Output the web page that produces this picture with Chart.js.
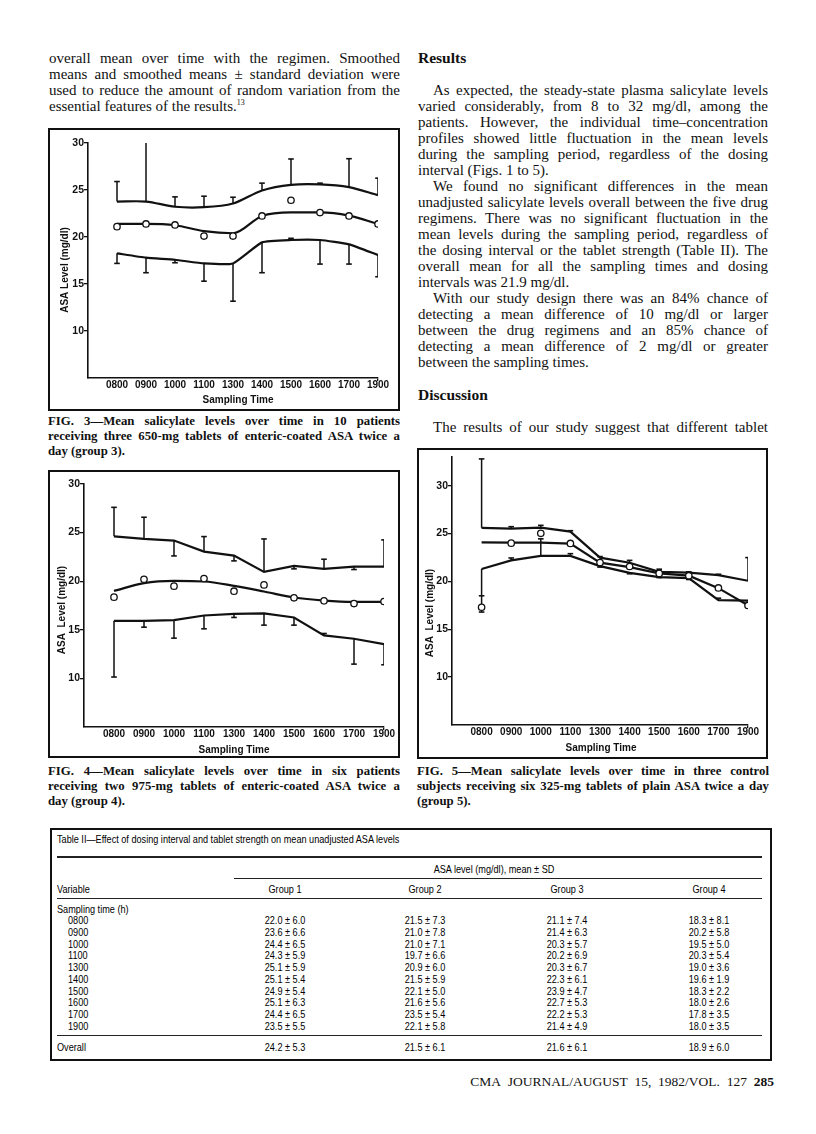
<!DOCTYPE html>
<html><head><meta charset="utf-8">
<script src="https://cdn.jsdelivr.net/npm/chart.js@4.4.1/dist/chart.umd.min.js"></script>
<style>
html,body{margin:0;padding:0;background:#fff;}
body{width:816px;height:1134px;position:relative;overflow:hidden;font-family:"Liberation Serif","Times New Roman",serif;color:#111;}
.t{position:absolute;white-space:nowrap;}
.j{text-align:justify;text-align-last:justify;white-space:normal;height:16px;}
.body{font-size:15px;line-height:16px;}
.cap{font-size:12.8px;line-height:15px;font-weight:bold;}
.head{font-size:15.5px;line-height:16px;font-weight:bold;}
.box{position:absolute;border:2px solid #111;box-sizing:border-box;pointer-events:none;z-index:2;}
canvas{position:absolute;}
.tb{position:absolute;white-space:nowrap;font-family:"Liberation Sans",Arial,sans-serif;font-size:11px;line-height:12px;color:#000;transform:scaleX(0.83);}
.rule{position:absolute;background:#222;}
</style></head>
<body>
<div id="page"></div>
<canvas id="fig3" width="352" height="283" style="left:48px;top:128px;width:352px;height:283px"></canvas>
<div class="box" style="left:48px;top:128px;width:352px;height:283px"></div>
<canvas id="fig4" width="352" height="288" style="left:48px;top:470px;width:352px;height:288px"></canvas>
<div class="box" style="left:48px;top:470px;width:352px;height:288px"></div>
<canvas id="fig5" width="351" height="311" style="left:417px;top:448px;width:351px;height:311px"></canvas>
<div class="box" style="left:417px;top:448px;width:351px;height:311px"></div>
<div class="box" style="left:50px;top:828px;width:722px;height:233px"></div>
<script>
// ---------- chart data ----------
const categories = ['0800','0900','1000','1100','1300','1400','1500','1600','1700','1900'];

// Fig. 3 (group 3)
const fig3Upper   = [23.77,23.77,23.22,23.17,23.56,24.95,25.55,25.6,25.3,24.45];
const fig3UpperSD = [25.9,30.28,24.27,24.34,24.23,25.73,28.3,25.73,28.33,26.26];
const fig3Mean    = [21.39,21.39,21.25,20.62,20.4,22.24,22.62,22.62,22.28,21.39];
const fig3Points  = [21.1,21.39,21.28,20.1,20.1,22.24,23.91,22.6,22.24,21.39];
const fig3Lower   = [18.26,17.8,17.58,17.19,17.19,19.43,19.68,19.68,19.22,18.08];
const fig3LowerSD = [17.19,16.2,17.26,15.3,13.17,16.2,19.86,17.12,17.12,15.77];

// Fig. 4 (group 4)
const fig4Upper   = [24.62,24.35,24.18,23.05,22.64,20.96,21.58,21.27,21.5,21.5];
const fig4UpperSD = [27.6,26.58,22.6,24.59,22.09,24.35,21.27,22.26,21.2,24.25];
const fig4Mean    = [19.0,19.8,20.03,19.97,19.52,18.94,18.32,18.01,17.88,17.88];
const fig4Points  = [18.36,20.2,19.49,20.27,18.97,19.62,18.29,17.98,17.7,17.91];
const fig4Lower   = [15.92,15.92,15.99,16.47,16.64,16.68,16.27,14.42,14.08,13.53];
const fig4LowerSD = [10.14,15.27,14.14,15.1,16.27,15.48,15.48,14.62,11.47,11.4];

// Fig. 5 (group 5)
const fig5Upper   = [25.6,25.52,25.62,25.2,22.48,21.95,21.0,20.92,20.65,20.07];
const fig5UpperSD = [32.8,25.72,25.86,25.3,22.6,22.2,21.28,21.0,20.75,22.49];
const fig5Mean    = [24.07,24.05,24.05,23.95,21.97,21.5,20.85,20.6,19.3,17.5];
const fig5Points  = [17.3,24.0,25.03,23.97,21.97,21.56,20.84,20.6,19.32,17.49];
const fig5Lower   = [21.3,22.2,22.66,22.66,21.6,20.9,20.45,20.35,18.05,18.0];
const fig5LowerSD = [18.5,22.45,24.45,22.9,21.5,20.8,20.4,20.2,18.25,17.3];
const fig5PointSDTop    = [18.5,null,null,null,null,null,null,null,null,null];
const fig5PointSDBottom = [16.8,null,null,null,null,null,null,null,null,null];

// Table II
const tableTimes  = ['0800','0900','1000','1100','1300','1400','1500','1600','1700','1900'];
const tableGroups = ['Group 1','Group 2','Group 3','Group 4'];
const tableGroup1 = ['22.0 ± 6.0','23.6 ± 6.6','24.4 ± 6.5','24.3 ± 5.9','25.1 ± 5.9','25.1 ± 5.4','24.9 ± 5.4','25.1 ± 6.3','24.4 ± 6.5','23.5 ± 5.5'];
const tableGroup2 = ['21.5 ± 7.3','21.0 ± 7.8','21.0 ± 7.1','19.7 ± 6.6','20.9 ± 6.0','21.5 ± 5.9','22.1 ± 5.0','21.6 ± 5.6','23.5 ± 5.4','22.1 ± 5.8'];
const tableGroup3 = ['21.1 ± 7.4','21.4 ± 6.3','20.3 ± 5.7','20.2 ± 6.9','20.3 ± 6.7','22.3 ± 6.1','23.9 ± 4.7','22.7 ± 5.3','22.2 ± 5.3','21.4 ± 4.9'];
const tableGroup4 = ['18.3 ± 8.1','20.2 ± 5.8','19.5 ± 5.0','20.3 ± 5.4','19.0 ± 3.6','19.6 ± 1.9','18.3 ± 2.2','18.0 ± 2.6','17.8 ± 3.5','18.0 ± 3.5'];
const tableOverall = ['24.2 ± 5.3','21.5 ± 6.1','21.6 ± 6.1','18.9 ± 6.0'];

// ---------- page text ----------
const page = document.getElementById('page');
function txt(html, x, y, w, cls, extra) {
  const d = document.createElement('div');
  d.className = 't ' + cls;
  d.style.left = x + 'px'; d.style.top = y + 'px';
  if (w) d.style.width = w + 'px';
  if (extra) d.style.cssText += extra;
  d.innerHTML = html;
  page.appendChild(d);
  return d;
}
// left column
const leftLines = [
  ['overall mean over time with the regimen. Smoothed', 1],
  ['means and smoothed means ± standard deviation were', 1],
  ['used to reduce the amount of random variation from the', 1],
  ['essential features of the results.<sup style="font-size:8px;vertical-align:6px;line-height:0">13</sup>', 0]
];
leftLines.forEach((l, i) => txt(l[0], 49, 50 + i * 16, 351, 'body' + (l[1] ? ' j' : '')));

// right column
txt('Results', 418, 50, 0, 'head');
const rightLines = [
  ['As expected, the steady-state plasma salicylate levels', 1, 1],
  ['varied considerably, from 8 to 32 mg/dl, among the', 0, 1],
  ['patients. However, the individual time–concentration', 0, 1],
  ['profiles showed little fluctuation in the mean levels', 0, 1],
  ['during the sampling period, regardless of the dosing', 0, 1],
  ['interval (Figs. 1 to 5).', 0, 0],
  ['We found no significant differences in the mean', 1, 1],
  ['unadjusted salicylate levels overall between the five drug', 0, 1],
  ['regimens. There was no significant fluctuation in the', 0, 1],
  ['mean levels during the sampling period, regardless of', 0, 1],
  ['the dosing interval or the tablet strength (Table II). The', 0, 1],
  ['overall mean for all the sampling times and dosing', 0, 1],
  ['intervals was 21.9 mg/dl.', 0, 0],
  ['With our study design there was an 84% chance of', 1, 1],
  ['detecting a mean difference of 10 mg/dl or larger', 0, 1],
  ['between the drug regimens and an 85% chance of', 0, 1],
  ['detecting a mean difference of 2 mg/dl or greater', 0, 1],
  ['between the sampling times.', 0, 0]
];
rightLines.forEach((l, i) => {
  const ind = l[1] ? 15 : 0;
  txt(l[0], 418 + ind, 81.7 + i * 16.04, 350 - ind, 'body' + (l[2] ? ' j' : ''));
});
txt('Discussion', 418, 387, 0, 'head');
txt('The results of our study suggest that different tablet', 433, 418.7, 335, 'body j');

// captions
const cap3 = ['FIG. 3—Mean salicylate levels over time in 10 patients', 'receiving three 650-mg tablets of enteric-coated ASA twice a', 'day (group 3).'];
const cap4 = ['FIG. 4—Mean salicylate levels over time in six patients', 'receiving two 975-mg tablets of enteric-coated ASA twice a', 'day (group 4).'];
const cap5 = ['FIG. 5—Mean salicylate levels over time in three control', 'subjects receiving six 325-mg tablets of plain ASA twice a day', '(group 5).'];
cap3.forEach((s, i) => txt(s, 48, 413.7 + i * 15.2, 352, 'cap' + (i < 2 ? ' j' : ''), 'height:15px'));
cap4.forEach((s, i) => txt(s, 48, 763.7 + i * 15, 352, 'cap' + (i < 2 ? ' j' : ''), 'height:15px'));
cap5.forEach((s, i) => txt(s, 417, 763.7 + i * 15, 352, 'cap' + (i < 2 ? ' j' : ''), 'height:15px'));

// footer
txt('CMA&nbsp; JOURNAL/AUGUST&nbsp; 15,&nbsp; 1982/VOL.&nbsp; 127&nbsp; <b>285</b>', 0, 1074, 774, 'body', 'text-align:right;font-size:13.5px');

// ---------- table ----------
function tb(html, x, y, align) {
  const d = document.createElement('div');
  d.className = 'tb';
  d.innerHTML = html;
  d.style.top = (y - 6.5) + 'px';
  if (align === 'center') {
    d.style.left = (x - 100) + 'px'; d.style.width = '200px'; d.style.textAlign = 'center';
    d.style.transformOrigin = '50% 50%';
  } else {
    d.style.left = x + 'px';
    d.style.transformOrigin = '0 50%';
  }
  page.appendChild(d);
}
function rule(x1, x2, y, h) {
  const d = document.createElement('div');
  d.className = 'rule';
  d.style.cssText += `left:${x1}px;width:${x2 - x1}px;top:${y}px;height:${h}px`;
  page.appendChild(d);
}
const colX = [285, 425, 567, 709];
tb('Table II—Effect of dosing interval and tablet strength on mean unadjusted ASA levels', 57, 839);
rule(57, 762, 856, 2);
tb('ASA level (mg/dl), mean ± SD', 494, 869, 'center');
rule(234, 762, 878, 1);
tb('Variable', 57, 889);
tableGroups.forEach((g, i) => tb(g, colX[i], 889, 'center'));
rule(57, 762, 898, 1);
tb('Sampling time (h)', 57, 909);
const groupCols = [tableGroup1, tableGroup2, tableGroup3, tableGroup4];
tableTimes.forEach((t, r) => {
  const y = 920.5 + r * 11.75;
  tb(t, 68, y);
  groupCols.forEach((col, c) => tb(col[r], colX[c], y, 'center'));
});
rule(57, 762, 1035, 1);
tb('Overall', 57, 1047);
tableOverall.forEach((v, c) => tb(v, colX[c], 1047, 'center'));

// ---------- charts ----------
const INK = '#111';
const pts = arr => arr.map((v, i) => ({ x: i, y: v }));
function segs(from, to) {
  const d = [];
  from.forEach((v, i) => {
    if (v == null || to[i] == null) return;
    d.push({ x: i, y: v }, { x: i, y: to[i] }, { x: i, y: null });
  });
  return d;
}
const axisTitles = {
  id: 'axisTitles',
  afterDraw(chart, args, o) {
    const { ctx, chartArea: a } = chart;
    ctx.save();
    ctx.fillStyle = INK;
    ctx.font = o.font;
    ctx.textAlign = 'center';
    ctx.textBaseline = 'middle';
    ctx.fillText(o.x.text, (a.left + a.right) / 2 + o.x.dx, a.bottom + o.x.dy);
    ctx.translate(a.left + o.y.dx, (a.top + a.bottom) / 2 + o.y.dy);
    ctx.rotate(-Math.PI / 2);
    ctx.fillText(o.y.text, 0, 0);
    ctx.restore();
  }
};
function lineDs(data, tension, mode) {
  return { type: 'line', data: pts(data), borderColor: INK, borderWidth: 2.2, pointRadius: 0,
           tension: tension, cubicInterpolationMode: mode || 'default', fill: false, order: 3 };
}
function barDs(from, to) {
  return { type: 'line', data: segs(from, to), borderColor: INK, borderWidth: 1.5, spanGaps: false,
           pointStyle: 'line', pointBorderColor: INK, pointBorderWidth: 1.6,
           pointRadius: c => (c.dataIndex % 3 === 1 ? 2.8 : 0),
           fill: false, order: 2 };
}
function pointDs(data) {
  return { type: 'line', data: pts(data), showLine: false, pointStyle: 'circle', pointRadius: 3.2,
           pointBackgroundColor: '#fff', pointBorderColor: INK, pointBorderWidth: 1.3, order: 0 };
}
function makeChart(id, datasets, L) {
  const font = { family: '"Liberation Sans", Arial, sans-serif', weight: 'bold' };
  new Chart(document.getElementById(id), {
    type: 'line',
    data: { datasets: datasets },
    plugins: [axisTitles],
    options: {
      responsive: false, animation: false, devicePixelRatio: 1,
      layout: { padding: { top: L.pt, right: L.pr, left: 0, bottom: 0 } },
      plugins: {
        legend: { display: false }, tooltip: { enabled: false }, title: { display: false },
        axisTitles: {
          font: 'bold 10px "Liberation Sans", Arial, sans-serif',
          x: { text: 'Sampling Time', dx: L.xdx, dy: L.xdy },
          y: { text: L.ytitle, dx: L.ydx, dy: L.ydy }
        }
      },
      scales: {
        x: {
          type: 'linear', min: -1, max: 9,
          afterFit: s => { s.height = L.xh; },
          border: { display: true, color: INK, width: 1.6 },
          grid: { drawOnChartArea: false, drawTicks: true, tickLength: 3, lineWidth: 1.3,
                  color: c => (c.tick && c.tick.value === 9) ? INK : 'rgba(0,0,0,0)' },
          ticks: { stepSize: 1, autoSkip: false, maxRotation: 0, minRotation: 0, padding: -2, color: INK,
                   font: Object.assign({ size: 10 }, font),
                   callback: v => (categories[v] !== undefined ? categories[v] : '') }
        },
        y: {
          min: 5, max: L.ymax,
          afterFit: s => { s.width = L.yw; },
          border: { display: true, color: INK, width: 1.6 },
          grid: { drawOnChartArea: false, drawTicks: true, tickLength: 4, lineWidth: 1.3,
                  color: c => (c.tick && c.tick.value >= 10) ? INK : 'rgba(0,0,0,0)' },
          ticks: { stepSize: 5, includeBounds: false, padding: 0, color: INK,
                   font: Object.assign({ size: 10.5 }, font),
                   callback: v => (v >= 10 ? String(v) : '') }
        }
      }
    }
  });
}

makeChart('fig3', [
  pointDs(fig3Points),
  lineDs(fig3Upper, 0.3), lineDs(fig3Mean, 0, 'monotone'), lineDs(fig3Lower, 0.15),
  barDs(fig3Upper, fig3UpperSD), barDs(fig3Lower, fig3LowerSD)
], { pt: 15, pr: 22, xh: 33, yw: 40, ymax: 30, ytitle: 'ASA Level (mg/dl)',
     xdx: 5, xdy: 22, ydx: -23, ydy: 9.5 });

makeChart('fig4', [
  pointDs(fig4Points),
  lineDs(fig4Upper, 0), lineDs(fig4Mean, 0, 'monotone'), lineDs(fig4Lower, 0),
  barDs(fig4Upper, fig4UpperSD), barDs(fig4Lower, fig4LowerSD)
], { pt: 14, pr: 16, xh: 31, yw: 36, ymax: 30, ytitle: 'ASA  Level (mg/dl)',
     xdx: 0, xdy: 23, ydx: -22, ydy: 4.5 });

makeChart('fig5', [
  pointDs(fig5Points),
  lineDs(fig5Upper, 0), lineDs(fig5Mean, 0), lineDs(fig5Lower, 0),
  barDs(fig5Upper, fig5UpperSD), barDs(fig5Lower, fig5LowerSD),
  barDs(fig5PointSDTop, fig5PointSDBottom)
], { pt: 9, pr: 20, xh: 34, yw: 35, ymax: 33, ytitle: 'ASA  Level (mg/dl)',
     xdx: 1, xdy: 23, ydx: -22, ydy: 22 });
</script>
</body></html>
